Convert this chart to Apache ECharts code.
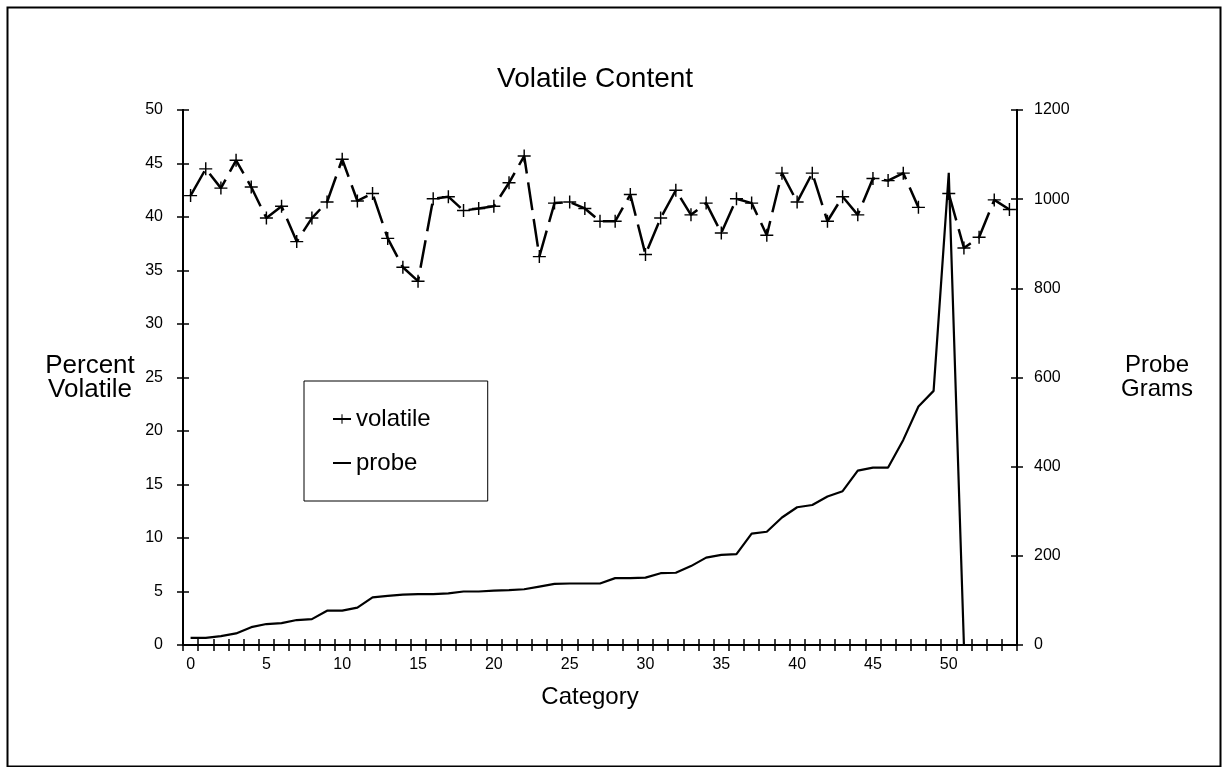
<!DOCTYPE html>
<html>
<head>
<meta charset="utf-8">
<script src="https://cdn.jsdelivr.net/npm/echarts@6/dist/echarts.min.js"></script>
<style>
html,body{margin:0;padding:0;background:#fff;}
#chart{width:1224px;height:767px;}
</style>
</head>
<body>
<div id="chart"></div>
<script>
var categories = [];
for (var c = 0; c <= 54; c++) categories.push(String(c));

var volatileValues = [42.0, 44.5, 42.7, 45.3, 42.8, 39.9, 41.0, 37.7, 39.9, 41.4,
  45.4, 41.5, 42.2, 38.0, 35.3, 34.0, 41.7, 41.9, 40.6, 40.8,
  41.0, 43.2, 45.7, 36.3, 41.3, 41.4, 40.8, 39.6, 39.6, 42.1,
  36.5, 39.9, 42.5, 40.2, 41.3, 38.5, 41.7, 41.3, 38.3, 44.1,
  41.4, 44.1, 39.6, 41.9, 40.2, 43.6, 43.4, 44.1, 40.9, null,
  42.2, 37.1, 38.1, 41.6, 40.7];

var probeValues = [16, 16, 20, 26, 40, 47, 49, 56, 58, 77,
  77, 84, 107, 110, 113, 114, 114, 116, 120, 120,
  122, 123, 125, 131, 137, 138, 138, 138, 150, 150,
  151, 161, 162, 177, 196, 202, 204, 250, 254, 286,
  309, 314, 333, 345, 391, 398, 398, 460, 535, 570,
  1059, 0, null, null, null];

var leftTicks = {min: 0, max: 50, interval: 5};
var rightTicks = {min: 0, max: 1200, interval: 200};

var FONT = "'Liberation Sans', Arial, Helvetica, sans-serif";
var plusPath = 'path://M-1.1,-10H1.1V-1.1H10V1.1H1.1V10H-1.1V1.1H-10V-1.1H-1.1Z';
var dashIcon = 'path://M0,0h0.01v0.01h-0.01z M0,5H20V7H0Z M19.99,11.99h0.01v0.01h-0.01z';

var chart = echarts.init(document.getElementById('chart'), null, {renderer: 'canvas'});

var tickStyle = {color: '#000', width: 1.5};
var lineStyleAxis = {color: '#000', width: 2};
var gridBox = {left: 183, right: 207, top: 110, bottom: 122};
var option = {
  animation: false,
  backgroundColor: '#fff',
  textStyle: {fontFamily: FONT, color: '#000'},
  title: {
    text: 'Volatile Content',
    left: 497, top: 65, padding: 0,
    textStyle: {fontFamily: FONT, fontSize: 28, fontWeight: 'normal', color: '#000'}
  },
  legend: {
    orient: 'vertical',
    left: 304, top: 381,
    padding: [26, 57, 26, 28],
    itemGap: 20,
    itemWidth: 18, itemHeight: 12,
    borderColor: '#000', borderWidth: 1,
    textStyle: {fontFamily: FONT, fontSize: 24, color: '#000'},
    data: [{name: 'volatile'}, {name: 'probe', icon: dashIcon}]
  },
  grid: [
    {left: gridBox.left, right: gridBox.right, top: gridBox.top, bottom: gridBox.bottom},
    {left: gridBox.left, right: gridBox.right, top: gridBox.top, bottom: gridBox.bottom}
  ],
  xAxis: [{
    gridIndex: 0,
    type: 'category', data: categories, boundaryGap: true, position: 'bottom',
    name: 'Category', nameLocation: 'middle', nameGap: 40,
    nameTextStyle: {fontFamily: FONT, fontSize: 24, color: '#000', padding: [0, 20, 0, 0]},
    axisLine: {show: true, lineStyle: lineStyleAxis},
    axisTick: {show: true, interval: 0, length: 6, lineStyle: tickStyle},
    axisLabel: {interval: function (i) { return i % 5 === 0; }, margin: 12,
      fontFamily: FONT, fontSize: 16, color: '#000'},
    splitLine: {show: false}
  }, {
    gridIndex: 1,
    type: 'category', data: categories, boundaryGap: true, position: 'bottom',
    axisLine: {show: true, lineStyle: lineStyleAxis},
    axisTick: {show: true, interval: 0, inside: true, length: 6, lineStyle: tickStyle},
    axisLabel: {show: false},
    splitLine: {show: false}
  }],
  yAxis: [{
    gridIndex: 0,
    type: 'value', position: 'left',
    min: leftTicks.min, max: leftTicks.max, interval: leftTicks.interval,
    name: 'Percent\nVolatile', nameLocation: 'middle', nameRotate: 0, nameGap: 93,
    nameTextStyle: {fontFamily: FONT, fontSize: 26, lineHeight: 24, color: '#000', align: 'center', padding: [0, 0, 18, 0]},
    axisLine: {show: true, lineStyle: lineStyleAxis},
    axisTick: {show: true, length: 6, lineStyle: tickStyle},
    axisLabel: {margin: 20, fontFamily: FONT, fontSize: 16, color: '#000'},
    splitLine: {show: false}
  }, {
    gridIndex: 0,
    type: 'value', position: 'right',
    min: rightTicks.min, max: rightTicks.max, interval: rightTicks.interval,
    name: 'Probe\nGrams', nameLocation: 'middle', nameRotate: 0, nameGap: 140,
    nameTextStyle: {fontFamily: FONT, fontSize: 24, lineHeight: 24, color: '#000', align: 'center', padding: [0, 0, 18, 0]},
    axisLine: {show: true, lineStyle: lineStyleAxis},
    axisTick: {show: true, length: 6, lineStyle: tickStyle},
    axisLabel: {margin: 17, fontFamily: FONT, fontSize: 16, color: '#000',
      formatter: function (v) { return String(v); }},
    splitLine: {show: false}
  }, {
    gridIndex: 1,
    type: 'value', position: 'left',
    min: leftTicks.min, max: leftTicks.max, interval: leftTicks.interval,
    axisLine: {show: true, lineStyle: lineStyleAxis},
    axisTick: {show: true, inside: true, length: 6, lineStyle: tickStyle},
    axisLabel: {show: false}, splitLine: {show: false}
  }, {
    gridIndex: 1,
    type: 'value', position: 'right',
    min: rightTicks.min, max: rightTicks.max, interval: rightTicks.interval,
    axisLine: {show: true, lineStyle: lineStyleAxis},
    axisTick: {show: true, inside: true, length: 6, lineStyle: tickStyle},
    axisLabel: {show: false}, splitLine: {show: false}
  }],
  series: [{
    name: 'volatile', type: 'line', xAxisIndex: 0, yAxisIndex: 0,
    data: volatileValues,
    connectNulls: false,
    symbol: plusPath, symbolSize: 13, showAllSymbol: true,
    itemStyle: {color: '#000'},
    lineStyle: {color: '#000', width: 2.5, type: [28, 9]},
    emphasis: {disabled: true}
  }, {
    name: 'probe', type: 'line', xAxisIndex: 0, yAxisIndex: 1,
    data: probeValues,
    connectNulls: false,
    symbol: 'none',
    itemStyle: {color: '#000'},
    lineStyle: {color: '#000', width: 2.2},
    emphasis: {disabled: true}
  }],
  graphic: [{
    type: 'rect', left: 5, top: 5, silent: true,
    shape: {x: 0, y: 0, width: 1213, height: 759},
    style: {fill: null, stroke: '#000', lineWidth: 2}
  }]
};
chart.setOption(option);
</script>
</body>
</html>
